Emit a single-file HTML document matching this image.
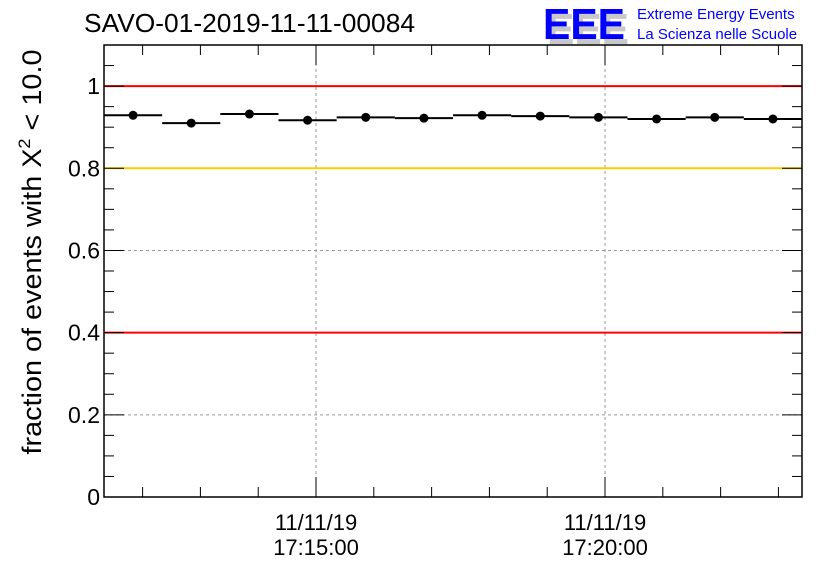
<!DOCTYPE html>
<html><head><meta charset="utf-8"><style>
body{margin:0;background:#fff;}
svg{display:block;font-family:"Liberation Sans",sans-serif;}
</style></head><body>
<svg id="c" width="836" height="572">
<text x="84" y="32" font-size="26" textLength="331" lengthAdjust="spacingAndGlyphs">SAVO-01-2019-11-11-00084</text>
<g>
<text x="547" y="44" font-size="44" font-weight="bold" fill="#c8c8c8" textLength="82" lengthAdjust="spacingAndGlyphs">EEE</text>
<text x="543" y="39" font-size="44" font-weight="bold" fill="#0000ff" textLength="82" lengthAdjust="spacingAndGlyphs">EEE</text>
<text x="637" y="19" font-size="15" fill="#0000ff">Extreme Energy Events</text>
<text x="637" y="39" font-size="15" fill="#0000ff">La Scienza nelle Scuole</text>
</g>
<text transform="translate(41,252) rotate(-90)" text-anchor="middle" font-size="27" textLength="405" lengthAdjust="spacingAndGlyphs">fraction of events with X<tspan dy="-11" font-size="17">2</tspan><tspan dy="11"> &lt; 10.0</tspan></text>
<g id="plot"></g>
</svg>
<script>
const values=[0.929,0.910,0.932,0.917,0.924,0.922,0.929,0.927,0.924,0.920,0.924,0.920];
const yTicks=[0,0.2,0.4,0.6,0.8,1];
const yTickLabels=["0","0.2","0.4","0.6","0.8","1"];
const xTickMinutes=[15,20];
const xTickLabels=[["11/11/19","17:15:00"],["11/11/19","17:20:00"]];
const refLines=[{v:1,c:"#ff0000"},{v:0.8,c:"#ffcc00"},{v:0.4,c:"#ff0000"}];
const L=104,R=802,T=45,B=497;
const ymin=0,ymax=1.1;
const tStart=11.332,tEnd=23.408; // minutes after 17:00
const y=v=>B-(v-ymin)/(ymax-ymin)*(B-T);
const x=m=>L+(m-tStart)/(tEnd-tStart)*(R-L);
const g=document.getElementById('plot');
const NS="http://www.w3.org/2000/svg";
function el(t,a){const e=document.createElementNS(NS,t);for(const k in a)e.setAttribute(k,a[k]);g.appendChild(e);return e;}
[0.2,0.6].forEach(v=>{const e=el('line',{x1:L,x2:R,y1:y(v),y2:y(v),stroke:'#999','stroke-dasharray':'3,3'});

});
xTickMinutes.forEach(m=>{const e=el('line',{x1:x(m),x2:x(m),y1:T,y2:B,stroke:'#999','stroke-dasharray':'3,3'});

});
refLines.forEach(r=>{const e=el('line',{x1:L,x2:R,y1:y(r.v),y2:y(r.v),stroke:r.c,'stroke-width':2});

});
for(let v=0;v<=1.1001;v+=0.05){const major=Math.abs(v/0.2-Math.round(v/0.2))<1e-6;const len=major?20:10;
el('line',{x1:L,x2:L+len,y1:y(v),y2:y(v),stroke:'#000'});el('line',{x1:R,x2:R-len,y1:y(v),y2:y(v),stroke:'#000'});}
yTicks.forEach((v,i)=>{const e=el('text',{x:L-4,y:y(v)+8,'text-anchor':'end','font-size':23});e.textContent=yTickLabels[i];

});
for(let m=12;m<=23;m++){const major=xTickMinutes.includes(m);const len=major?20:10;
el('line',{x1:x(m),x2:x(m),y1:B,y2:B-len,stroke:'#000'});el('line',{x1:x(m),x2:x(m),y1:T,y2:T+len,stroke:'#000'});}
xTickMinutes.forEach((m,i)=>{xTickLabels[i].forEach((s,j)=>{const e=el('text',{x:x(m),y:530+j*25,'text-anchor':'middle','font-size':22});e.textContent=s;

});});
const bw=(R-L)/values.length;
values.forEach((v,i)=>{const x0=L+i*bw;
const h=el('line',{x1:x0,x2:x0+bw,y1:y(v),y2:y(v),stroke:'#000','stroke-width':2});


const c=el('circle',{cx:x0+bw/2,cy:y(v),r:4.5,fill:'#000'});

});
const f=el('rect',{x:L,y:T,width:R-L,height:B-T,fill:'none',stroke:'#000','stroke-width':1.5});


</script>
</body></html>
